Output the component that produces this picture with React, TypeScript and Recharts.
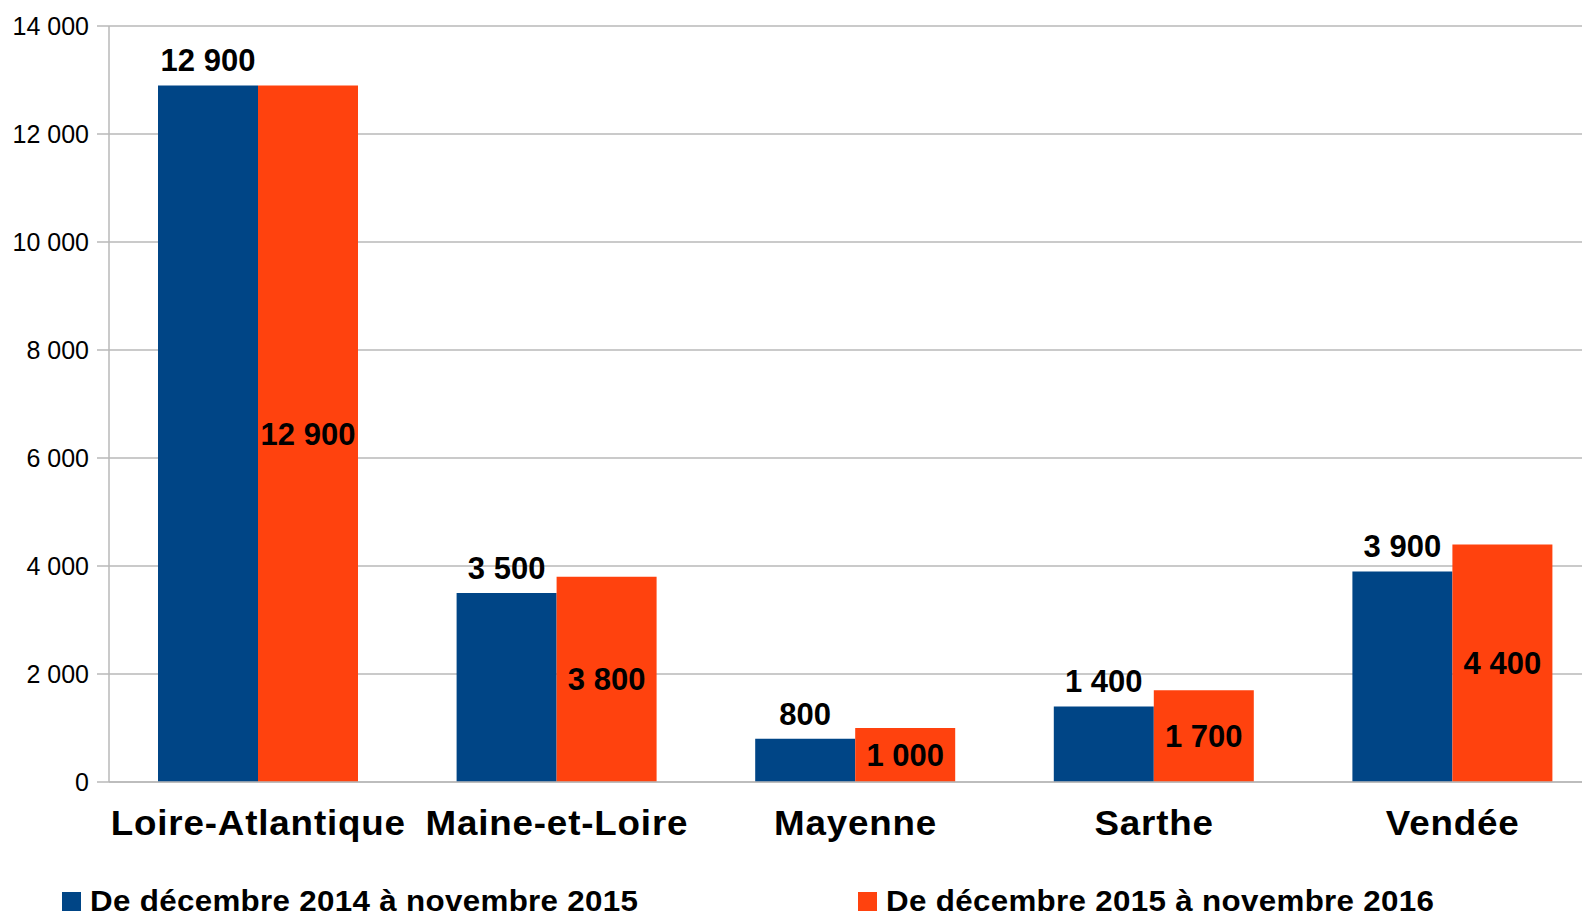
import { BarChart, Bar, XAxis, YAxis, CartesianGrid, LabelList } from "recharts";

const departements = ["Loire-Atlantique", "Maine-et-Loire", "Mayenne", "Sarthe", "Vendée"];
const periode2015 = [12900, 3500, 800, 1400, 3900];
const periode2016 = [12900, 3800, 1000, 1700, 4400];
const yTicks = [0, 2000, 4000, 6000, 8000, 10000, 12000, 14000];
const edgeTicks = [0, 1, 2, 3, 4, 5];

const serieNames = ["De décembre 2014 à novembre 2015", "De décembre 2015 à novembre 2016"];
const BLUE = "#004586";
const ORANGE = "#ff420e";
const GRID = "#b8b8b8";
const FONT = "'Liberation Sans', Arial, sans-serif";

const data = departements.map((name, i) => ({
  name,
  a: periode2015[i],
  b: periode2016[i],
}));

const fmt = (v: number) => String(v).replace(/\B(?=(\d{3})+(?!\d))/g, " ");

const CategoryTick = (props: any) => {
  const { x, y, payload } = props;
  return (
    <text
      transform={`translate(${x},${y}) scale(1.05,1)`}
      textAnchor="middle"
      dy="0.71em"
      fontSize={35}
      fontWeight={700}
      fill="#000"
      fontFamily={FONT}
      letterSpacing={0.8}
    >
      {payload.value}
    </text>
  );
};

export default function App() {
  return (
    <div
      style={{
        position: "fixed",
        left: 0,
        top: 0,
        width: 1582,
        height: 915,
        overflow: "hidden",
        background: "#fff",
        fontFamily: FONT,
      }}
    >
      <BarChart
        width={1602}
        height={915}
        data={data}
        margin={{ top: 26, right: 0, left: 0, bottom: 0 }}
        barGap={0}
        barSize={100}
      >
        <CartesianGrid vertical={false} stroke={GRID} strokeWidth={1.3} xAxisId="cat" />
        <XAxis
          xAxisId="edge"
          type="number"
          domain={[0, 5]}
          ticks={edgeTicks}
          allowDataOverflow
          tick={false}
          axisLine={false}
          tickSize={11}
          height={0}
          stroke={GRID}
          tickLine={{ stroke: GRID, strokeWidth: 1.5 }}
        />
        <XAxis
          xAxisId="cat"
          dataKey="name"
          height={133}
          tickLine={false}
          tickSize={10}
          tickMargin={18}
          axisLine={{ stroke: GRID, strokeWidth: 1.5 }}
          tick={<CategoryTick />}
        />
        <YAxis
          width={109}
          domain={[0, 14000]}
          ticks={yTicks}
          tickFormatter={fmt}
          tickSize={12}
          tickMargin={8}
          axisLine={{ stroke: GRID, strokeWidth: 1.5 }}
          tickLine={{ stroke: GRID, strokeWidth: 1.5 }}
          tick={{ fontSize: 25, fill: "#000", fontFamily: FONT }}
        />
        <Bar dataKey="a" xAxisId="cat" fill={BLUE} isAnimationActive={false}>
          <LabelList
            dataKey="a"
            position="top"
            offset={14}
            formatter={(v: any) => fmt(Number(v))}
            style={{ fontSize: 31, fontWeight: 700, fill: "#000", fontFamily: FONT }}
          />
        </Bar>
        <Bar dataKey="b" xAxisId="cat" fill={ORANGE} isAnimationActive={false}>
          <LabelList
            dataKey="b"
            position="center"
            formatter={(v: any) => fmt(Number(v))}
            style={{ fontSize: 31, fontWeight: 700, fill: "#000", fontFamily: FONT }}
          />
        </Bar>
      </BarChart>
      {serieNames.map((n, i) => (
        <div
          key={n}
          style={{
            position: "absolute",
            left: i === 0 ? 62 : 858,
            top: 887,
            display: "flex",
            alignItems: "flex-start",
            whiteSpace: "nowrap",
          }}
        >
          <div
            style={{
              width: 19,
              height: 19,
              marginTop: 5,
              background: i === 0 ? BLUE : ORANGE,
              marginRight: 9,
            }}
          />
          <div
            style={{
              fontSize: 29,
              lineHeight: "29px",
              fontWeight: 700,
              letterSpacing: 0.3,
              color: "#000",
              transform: "scaleX(1.08)",
              transformOrigin: "left top",
            }}
          >
            {n}
          </div>
        </div>
      ))}
    </div>
  );
}
